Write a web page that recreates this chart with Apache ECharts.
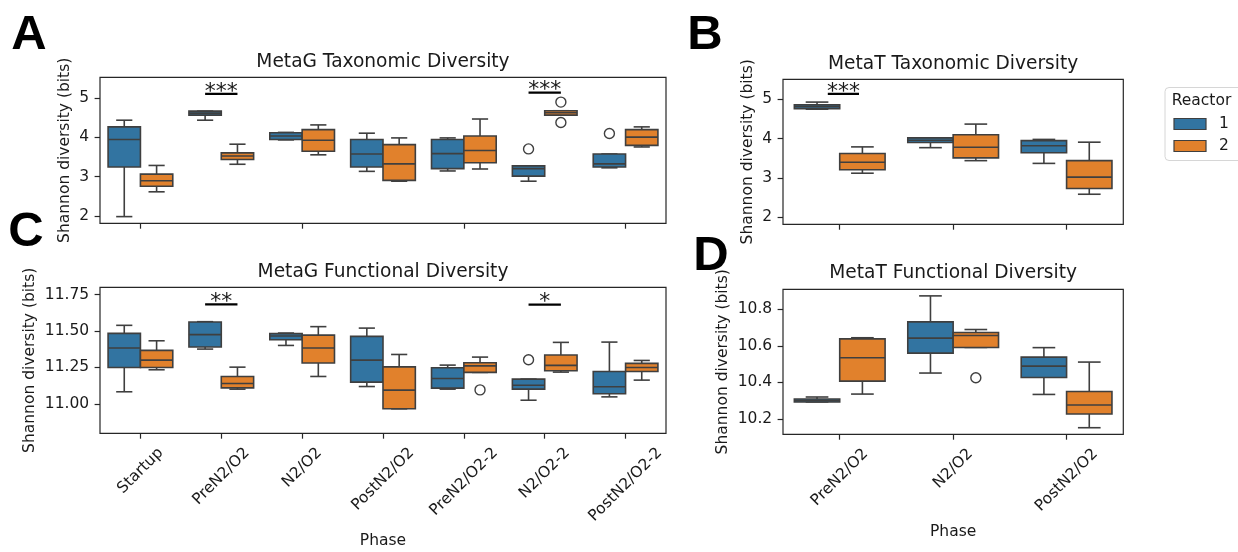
<!DOCTYPE html>
<html>
<head>
<meta charset="utf-8">
<script src="https://cdn.jsdelivr.net/npm/echarts@6/dist/echarts.min.js"></script>
<style>
  html, body { margin: 0; padding: 0; background: #ffffff; }
  #chart { width: 1238px; height: 552px; }
</style>
</head>
<body>
<div id="chart"></div>
<script>
// ---- data ---------------------------------------------------------------
const phasesG = ['Startup', 'PreN2/O2', 'N2/O2', 'PostN2/O2', 'PreN2/O2-2', 'N2/O2-2', 'PostN2/O2-2'];
const phasesT = ['PreN2/O2', 'N2/O2', 'PostN2/O2'];
const reactors = ['1', '2'];

// box summaries per phase: [lower whisker, Q1, median, Q3, upper whisker]
const metagTaxR1 = [
  [1.98, 3.24, 3.94, 4.26, 4.43], [4.43, 4.56, 4.61, 4.66, 4.66], [3.93, 3.94, 4.03, 4.11, 4.12],
  [3.13, 3.24, 3.57, 3.94, 4.10], [3.14, 3.20, 3.58, 3.94, 3.98], [2.88, 3.01, 3.20, 3.27, 3.27],
  [3.22, 3.24, 3.32, 3.57, 3.57]
];
const metagTaxR2 = [
  [2.61, 2.75, 2.89, 3.06, 3.28], [3.31, 3.43, 3.52, 3.60, 3.82], [3.55, 3.64, 3.92, 4.19, 4.31],
  [2.88, 2.90, 3.32, 3.81, 3.98], [3.19, 3.35, 3.66, 4.03, 4.46], [4.56, 4.56, 4.62, 4.67, 4.67],
  [3.75, 3.79, 4.00, 4.19, 4.26]
];
// outliers: [phase index, reactor index, value]
const metagTaxOut = [[5, 0, 3.70], [5, 1, 4.89], [5, 1, 4.37], [6, 0, 4.09]];
// significance: [phase index, bar level, stars]
const metagTaxSig = [[1, 5.10, '***'], [5, 5.13, '***']];

const metatTaxR1 = [[4.75, 4.76, 4.81, 4.86, 4.93], [3.77, 3.90, 3.96, 4.02, 4.02], [3.37, 3.64, 3.82, 3.95, 3.98]];
const metatTaxR2 = [[3.12, 3.21, 3.40, 3.62, 3.79], [3.44, 3.51, 3.78, 4.10, 4.37], [2.585, 2.73, 3.02, 3.44, 3.91]];
const metatTaxOut = [];
const metatTaxSig = [[0, 5.14, '***']];

const metagFunR1 = [
  [11.083, 11.25, 11.383, 11.484, 11.539], [11.376, 11.39, 11.475, 11.562, 11.564],
  [11.401, 11.44, 11.466, 11.482, 11.486], [11.119, 11.149, 11.30, 11.463, 11.52],
  [11.101, 11.108, 11.174, 11.248, 11.266], [11.025, 11.101, 11.128, 11.17, 11.17],
  [11.048, 11.069, 11.117, 11.222, 11.424]
];
const metagFunR2 = [
  [11.234, 11.25, 11.30, 11.367, 11.433], [11.101, 11.11, 11.14, 11.188, 11.252],
  [11.188, 11.28, 11.383, 11.472, 11.53], [10.966, 10.966, 11.094, 11.254, 11.339],
  [11.216, 11.216, 11.261, 11.282, 11.321], [11.218, 11.227, 11.264, 11.335, 11.422],
  [11.163, 11.222, 11.25, 11.278, 11.298]
];
const metagFunOut = [[4, 1, 11.096], [5, 0, 11.303]];
const metagFunSig = [[1, 11.683, '**'], [5, 11.681, '*']];

const metatFunR1 = [[10.293, 10.293, 10.30, 10.309, 10.32], [10.451, 10.56, 10.642, 10.731, 10.873], [10.334, 10.427, 10.489, 10.538, 10.59]];
const metatFunR2 = [[10.336, 10.407, 10.535, 10.638, 10.644], [10.591, 10.591, 10.656, 10.673, 10.689], [10.152, 10.227, 10.276, 10.35, 10.511]];
const metatFunOut = [[1, 1, 10.425]];
const metatFunSig = [];

const taxTicks = [2, 3, 4, 5];
const metagFunTicks = [11.00, 11.25, 11.50, 11.75];
const metatFunTicks = [10.2, 10.4, 10.6, 10.8];

// ---- styling ------------------------------------------------------------
const FONT = 'DejaVu Sans';
const INK = '#1a1a1a';
const EDGE = '#3f3f3f';
const SPINE = '#262626';
const palette = ['#3274a1', '#e1812c'];
const TICK_FS = 15.5;
const TITLE_FS = 18.6;

const panels = [
  { title: 'MetaG Taxonomic Diversity', cats: phasesG, r1: metagTaxR1, r2: metagTaxR2, out: metagTaxOut, sig: metagTaxSig,
    grid: { left: 100, top: 77.3, width: 566, height: 146 }, y: [1.81, 5.52], ticks: taxTicks, dec: 0,
    nameGap: 27, showX: false, titleY: 62, sigSpan: [-0.2, 0.2] },
  { title: 'MetaT Taxonomic Diversity', cats: phasesT, r1: metatTaxR1, r2: metatTaxR2, out: metatTaxOut, sig: metatTaxSig,
    grid: { left: 783, top: 79.3, width: 340.3, height: 145 }, y: [1.82, 5.51], ticks: taxTicks, dec: 0,
    nameGap: 27, showX: false, titleY: 64, sigSpan: [-0.105, 0.17] },
  { title: 'MetaG Functional Diversity', cats: phasesG, r1: metagFunR1, r2: metagFunR2, out: metagFunOut, sig: metagFunSig,
    grid: { left: 100, top: 287.3, width: 566, height: 146 }, y: [10.798, 11.80], ticks: metagFunTicks, dec: 2,
    nameGap: 62.5, showX: true, xNameGap: 100, titleY: 272, sigSpan: [-0.2, 0.2] },
  { title: 'MetaT Functional Diversity', cats: phasesT, r1: metatFunR1, r2: metatFunR2, out: metatFunOut, sig: metatFunSig,
    grid: { left: 783, top: 289.3, width: 340.3, height: 145 }, y: [10.116, 10.909], ticks: metatFunTicks, dec: 1,
    nameGap: 52, showX: true, xNameGap: 90, titleY: 273.5, sigSpan: [-0.2, 0.2] }
];

// Rotated tick labels are centred under their tick (the rotated box of the
// label is centred horizontally and hangs below the axis); padding pushes
// each label's centre down by an amount that depends on its length.
const measureCtx = document.createElement('canvas').getContext('2d');
measureCtx.font = TICK_FS + 'px "' + FONT + '"';
function rotatedRich(cats) {
  const rich = {};
  cats.forEach(function (c, i) {
    const L = measureCtx.measureText(c).width;
    const p = (L + TICK_FS * 1.16) / 2;
    rich['c' + i] = { padding: [p, p, 0, 0], fontSize: TICK_FS, fontFamily: FONT, color: INK };
  });
  return rich;
}

function bandInfo(api, cat) {
  const x0 = api.coord([0, 0])[0];
  const x1 = api.coord([1, 0])[0];
  const band = x1 - x0;
  return { band: band, cx: x0 + band * cat };
}

function renderBox(params, api) {
  const cat = api.value(0);
  const r = api.value(1);
  const b = bandInfo(api, cat);
  const w = 0.4 * b.band;
  const cx = b.cx + (r === 0 ? -0.2 : 0.2) * b.band;
  const y = function (v) { return api.coord([cat, v])[1]; };
  const lo = y(api.value(2)), q1 = y(api.value(3)), md = y(api.value(4)), q3 = y(api.value(5)), hi = y(api.value(6));
  const lineStyle = { stroke: EDGE, lineWidth: 1.6, fill: null };
  const cap = w / 4;
  return {
    type: 'group',
    children: [
      { type: 'line', shape: { x1: cx, y1: q1, x2: cx, y2: lo }, style: lineStyle },
      { type: 'line', shape: { x1: cx, y1: q3, x2: cx, y2: hi }, style: lineStyle },
      { type: 'line', shape: { x1: cx - cap, y1: lo, x2: cx + cap, y2: lo }, style: lineStyle },
      { type: 'line', shape: { x1: cx - cap, y1: hi, x2: cx + cap, y2: hi }, style: lineStyle },
      { type: 'rect', shape: { x: cx - w / 2, y: q3, width: w, height: q1 - q3 },
        style: { fill: palette[r], stroke: EDGE, lineWidth: 1.6 } },
      { type: 'line', shape: { x1: cx - w / 2, y1: md, x2: cx + w / 2, y2: md }, style: lineStyle }
    ]
  };
}

function renderOutlier(params, api) {
  const cat = api.value(0);
  const r = api.value(1);
  const b = bandInfo(api, cat);
  const cx = b.cx + (r === 0 ? -0.2 : 0.2) * b.band;
  const cy = api.coord([cat, api.value(2)])[1];
  return { type: 'circle', shape: { cx: cx, cy: cy, r: 5 }, style: { fill: 'none', stroke: EDGE, lineWidth: 1.4 } };
}

function makeSigRenderer(sigList, span) {
  return function (params, api) {
    const cat = api.value(0);
    const b = bandInfo(api, cat);
    const yy = api.coord([cat, api.value(1)])[1];
    const xa = b.cx + span[0] * b.band, xb = b.cx + span[1] * b.band;
    return {
      type: 'group',
      children: [
        { type: 'line', shape: { x1: xa, y1: yy, x2: xb, y2: yy }, style: { stroke: '#000', lineWidth: 2.2 } },
        { type: 'text', x: (xa + xb) / 2, y: yy - 2,
          style: { text: sigList[params.dataIndex][2], fill: INK, font: '22px "' + FONT + '"', align: 'center', verticalAlign: 'middle' } }
      ]
    };
  };
}

const grids = [], xAxes = [], yAxes = [], series = [], graphics = [];

panels.forEach(function (p, i) {
  grids.push(Object.assign({ show: true, borderColor: SPINE, borderWidth: 1.2, backgroundColor: 'transparent' }, p.grid));

  const xa = {
    type: 'category', gridIndex: i, data: p.cats,
    axisLine: { show: false },
    axisTick: { show: true, alignWithLabel: true, length: 5.4, lineStyle: { color: SPINE, width: 1.2 } },
    axisLabel: { show: false },
    splitLine: { show: false }
  };
  if (p.showX) {
    const rich = rotatedRich(p.cats);
    xa.axisLabel = {
      show: true, interval: 0, rotate: 45, margin: 10.8, align: 'center', verticalAlign: 'middle',
      fontSize: TICK_FS, fontFamily: FONT, color: INK, rich: rich,
      formatter: function (v, idx) { return '{c' + idx + '|' + v + '}'; }
    };
    xa.name = 'Phase';
    xa.nameLocation = 'middle';
    xa.nameGap = p.xNameGap;
    xa.nameTextStyle = { fontSize: TICK_FS, fontFamily: FONT, color: INK };
  }
  xAxes.push(xa);

  yAxes.push({
    type: 'value', gridIndex: i, min: p.y[0], max: p.y[1],
    name: 'Shannon diversity (bits)', nameLocation: 'middle', nameGap: p.nameGap,
    nameTextStyle: { fontSize: TICK_FS, fontFamily: FONT, color: INK },
    axisLine: { show: false },
    splitLine: { show: false },
    axisTick: { show: true, length: 5.4, customValues: p.ticks, lineStyle: { color: SPINE, width: 1.2 } },
    axisLabel: {
      show: true, margin: 10.8, fontSize: TICK_FS, fontFamily: FONT, color: INK, customValues: p.ticks,
      formatter: (function (d) { return function (v) { return Number(v).toFixed(d); }; })(p.dec)
    }
  });

  const boxData = [];
  [p.r1, p.r2].forEach(function (arr, r) {
    arr.forEach(function (s, c) { boxData.push([c, r].concat(s)); });
  });
  series.push({
    type: 'custom', xAxisIndex: i, yAxisIndex: i, renderItem: renderBox,
    encode: { x: 0, y: [2, 3, 4, 5, 6] }, data: boxData, silent: true, z: 3
  });
  if (p.out.length) {
    series.push({
      type: 'custom', xAxisIndex: i, yAxisIndex: i, renderItem: renderOutlier,
      encode: { x: 0, y: 2 }, data: p.out, silent: true, z: 4
    });
  }
  if (p.sig.length) {
    series.push({
      type: 'custom', xAxisIndex: i, yAxisIndex: i, renderItem: makeSigRenderer(p.sig, p.sigSpan),
      encode: { x: 0, y: 1 }, data: p.sig.map(function (s) { return [s[0], s[1]]; }), silent: true, z: 5
    });
  }

  graphics.push({
    type: 'text', x: p.grid.left + p.grid.width / 2, y: p.titleY,
    style: { text: p.title, font: TITLE_FS + 'px "' + FONT + '"', fill: INK, align: 'center', verticalAlign: 'middle' }
  });
});

// panel letters
[['A', 29, 35], ['B', 705, 35], ['C', 26, 232], ['D', 711, 256]].forEach(function (l) {
  graphics.push({
    type: 'text', x: l[1], y: l[2],
    style: { text: l[0], font: 'bold 49px "Liberation Sans"', fill: '#000', align: 'center', verticalAlign: 'middle' }
  });
});

// legend
graphics.push({
  type: 'group',
  children: [
    { type: 'rect', shape: { x: 1165, y: 87.5, width: 90, height: 73, r: 4 },
      style: { fill: '#fff', stroke: '#d6d6d6', lineWidth: 1 } },
    { type: 'text', x: 1201.5, y: 101,
      style: { text: 'Reactor', font: '15.5px "' + FONT + '"', fill: INK, align: 'center', verticalAlign: 'middle' } }
  ].concat(reactors.map(function (name, r) {
    return [
      { type: 'rect', shape: { x: 1174, y: 118.5 + 22 * r, width: 32, height: 11 },
        style: { fill: palette[r], stroke: EDGE, lineWidth: 1.2 } },
      { type: 'text', x: 1219, y: 124 + 22 * r,
        style: { text: name, font: '15.5px "' + FONT + '"', fill: INK, align: 'left', verticalAlign: 'middle' } }
    ];
  }).reduce(function (a, b) { return a.concat(b); }, []))
});

const chart = echarts.init(document.getElementById('chart'), null, { renderer: 'canvas' });
chart.setOption({
  backgroundColor: '#ffffff',
  animation: false,
  textStyle: { fontFamily: FONT },
  grid: grids,
  xAxis: xAxes,
  yAxis: yAxes,
  series: series,
  graphic: graphics
});
</script>
</body>
</html>
